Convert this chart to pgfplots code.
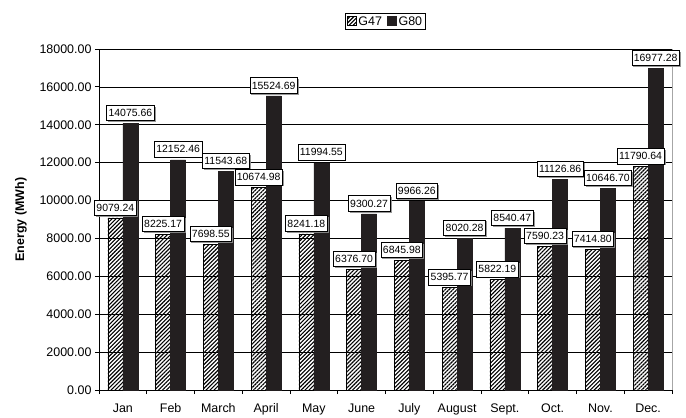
\documentclass[border=0pt]{standalone}
\usepackage{pgfplots}
\pgfplotsset{compat=1.18}
\usepackage{pgfplotstable}
\usepackage{fontspec}
\setmainfont{Liberation Sans}
\usetikzlibrary{patterns.meta,shadows}
\definecolor{barblack}{HTML}{231F20}

\pgfplotstableread{
x g47 g80
0 9079.24 14075.66
1 8225.17 12152.46
2 7698.55 11543.68
3 10674.98 15524.69
4 8241.18 11994.55
5 6376.70 9300.27
6 6845.98 9966.26
7 5395.77 8020.28
8 5822.19 8540.47
9 7590.23 11126.86
10 7414.80 10646.70
11 11790.64 16977.28
}\energy

% labels: x = month index -/+ half a bar (7.5bp of 47.75bp per month)
\pgfplotstableread{
x y lab
-0.157 9079.24 9079.24
0.157 14075.66 14075.66
0.843 8225.17 8225.17
1.157 12152.46 12152.46
1.843 7698.55 7698.55
2.157 11543.68 11543.68
2.843 10674.98 10674.98
3.157 15524.69 15524.69
3.843 8241.18 8241.18
4.157 11994.55 11994.55
4.843 6376.70 6376.70
5.157 9300.27 9300.27
5.843 6845.98 6845.98
6.157 9966.26 9966.26
6.843 5395.77 5395.77
7.157 8020.28 8020.28
7.843 5822.19 5822.19
8.157 8540.47 8540.47
8.843 7590.23 7590.23
9.157 11126.86 11126.86
9.843 7414.80 7414.80
10.157 10646.70 10646.70
10.843 11790.64 11790.64
11.157 16977.28 16977.28
}\labels

\begin{document}
\begin{tikzpicture}
\path[use as bounding box] (0,0) rectangle (686bp,418bp);
\begin{axis}[
  at={(99bp,28bp)}, anchor=south west,
  scale only axis, width=573bp, height=341bp,
  clip=false,
  ybar=0pt, bar width=15bp,
  ymin=0, ymax=18000, ytick={0,2000,...,18000},
  scaled y ticks=false,
  xmin=-0.5, xmax=11.5,
  xtick={-0.5,0.5,1.5,2.5,3.5,4.5,5.5,6.5,7.5,8.5,9.5,10.5,11.5},
  xticklabels={,,,,,,,,,,,,},
  extra x ticks={0,1,2,3,4,5,6,7,8,9,10,11},
  extra x tick labels={Jan,Feb,March,April,May,June,July,August,Sept.,Oct.,Nov.,Dec.},
  extra x tick style={major tick length=0pt, xmajorgrids=false, xticklabel style={yshift=-10bp}},
  axis lines*=left,
  axis line style={black, line width=0.8bp},
  tick align=outside, major tick length=4bp,
  tick style={black, line width=0.8bp},
  ymajorgrids, major grid style={black, line width=0.7bp},
  tick label style={font=\fontsize{12.5}{14}\selectfont},
  yticklabel style={/pgf/number format/fixed, /pgf/number format/fixed zerofill,
    /pgf/number format/precision=2, /pgf/number format/1000 sep={},
    /pgf/number format/assume math mode=true},
  ylabel={Energy (MWh)},
  ylabel shift=6bp,
  ylabel style={font=\fontsize{12.5}{14}\selectfont\bfseries},
  legend style={at={(0.5,1)}, anchor=south, yshift=19bp, draw=black, line width=0.6bp,
    font=\fontsize{12.5}{14}\selectfont, inner xsep=1.5bp, inner ysep=1bp,
    /tikz/every even column/.append style={column sep=3bp}},
  legend columns=2,
  legend image code/.code={\draw[#1] (0bp,-4bp) rectangle (9bp,5bp);},
]
\addplot[draw=black, line width=0.6bp, pattern={Lines[angle=45,distance=2.8bp,line width=1.1bp]}, pattern color=black]
  table[x=x, y=g47] {\energy};
\addlegendentry{G47}
\addplot[draw=barblack, fill=barblack]
  table[x=x, y=g80] {\energy};
\addlegendentry{G80}
\draw[gray!70, line width=0.8bp] (rel axis cs:1,0) -- (rel axis cs:1,1);
\addplot[forget plot, bar shift=0pt, draw=none, fill=none, mark=none, point meta=explicit symbolic,
  nodes near coords={\pgfplotspointmeta},
  every node near coord/.append style={anchor=south, yshift=2.5bp,
    font=\fontsize{10.5}{12}\selectfont, fill=white, draw=black, line width=0.6bp,
    inner xsep=2bp, inner ysep=3.5bp, text height=7.8bp, text depth=0.5bp,
    drop shadow={shadow xshift=1.5bp, shadow yshift=-1.5bp, fill=gray!90, opacity=0.9}}]
  table[x=x, y=y, meta=lab] {\labels};
\end{axis}
\end{tikzpicture}
\end{document}
